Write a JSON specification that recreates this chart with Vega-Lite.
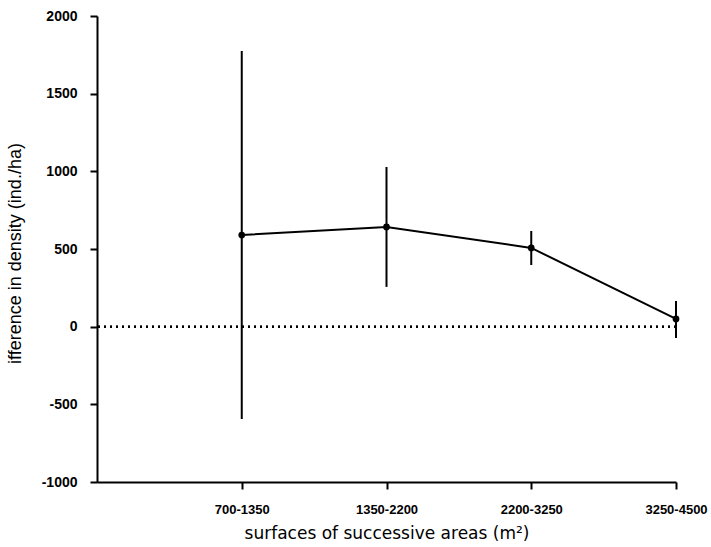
{
  "$schema": "https://vega.github.io/schema/vega-lite/v6.json",
  "autosize": {"type": "none"},
  "padding": {"left": 97, "top": 16, "right": 35, "bottom": 65},
  "width": 579,
  "height": 466,
  "background": "white",
  "config": {"view": {"stroke": null}},
  "data": {"values": [
    {"area": "700-1350", "diff": 590, "lo": -594, "hi": 1775},
    {"area": "1350-2200", "diff": 642, "lo": 256, "hi": 1028},
    {"area": "2200-3250", "diff": 507, "lo": 397, "hi": 616},
    {"area": "3250-4500", "diff": 50, "lo": -73, "hi": 165}
  ]},
  "encoding": {
    "x": {
      "field": "area", "type": "ordinal",
      "scale": {"type": "point", "domain": ["", "700-1350", "1350-2200", "2200-3250", "3250-4500"], "padding": 0},
      "axis": {
        "values": ["700-1350", "1350-2200", "2200-3250", "3250-4500"],
        "title": "surfaces of successive areas (m²)",
        "labelAngle": 0, "labelFont": "Liberation Sans", "labelFontWeight": "bold", "labelFontSize": 13, "labelColor": "black",
        "labelPadding": 14,
        "titleFont": "DejaVu Sans", "titleFontWeight": "normal", "titleFontSize": 17, "titleColor": "black", "titlePadding": 9,
        "domainColor": "black", "domainWidth": 2, "tickColor": "black", "tickWidth": 2, "tickSize": 7, "grid": false
      }
    }
  },
  "layer": [
    {
      "mark": {"type": "rule", "color": "black", "strokeWidth": 2, "strokeDash": [2, 4]},
      "encoding": {"y": {"datum": 0, "type": "quantitative"}, "x": null}
    },
    {
      "mark": {"type": "rule", "color": "black", "strokeWidth": 2},
      "encoding": {
        "y": {"field": "lo", "type": "quantitative",
          "scale": {"domain": [-1000, 2000], "nice": false, "zero": false},
          "axis": {
            "values": [-1000, -500, 0, 500, 1000, 1500, 2000],
            "labelExpr": "'' + datum.value",
            "title": "ifference in density (ind./ha)",
            "labelFont": "Liberation Sans", "labelFontWeight": "bold", "labelFontSize": 14, "labelColor": "black", "labelPadding": 13,
            "titleFont": "Liberation Sans Narrow, Liberation Sans", "titleFontWeight": "normal", "titleFontSize": 18, "titleColor": "black",
            "titleX": -73, "titleY": 237,
            "domainColor": "black", "domainWidth": 2, "tickColor": "black", "tickWidth": 2, "tickSize": 7, "grid": false
          }
        },
        "y2": {"field": "hi"}
      }
    },
    {
      "mark": {"type": "line", "color": "black", "strokeWidth": 2, "point": {"filled": true, "color": "black", "size": 45}},
      "encoding": {"y": {"field": "diff", "type": "quantitative"}}
    }
  ]
}
